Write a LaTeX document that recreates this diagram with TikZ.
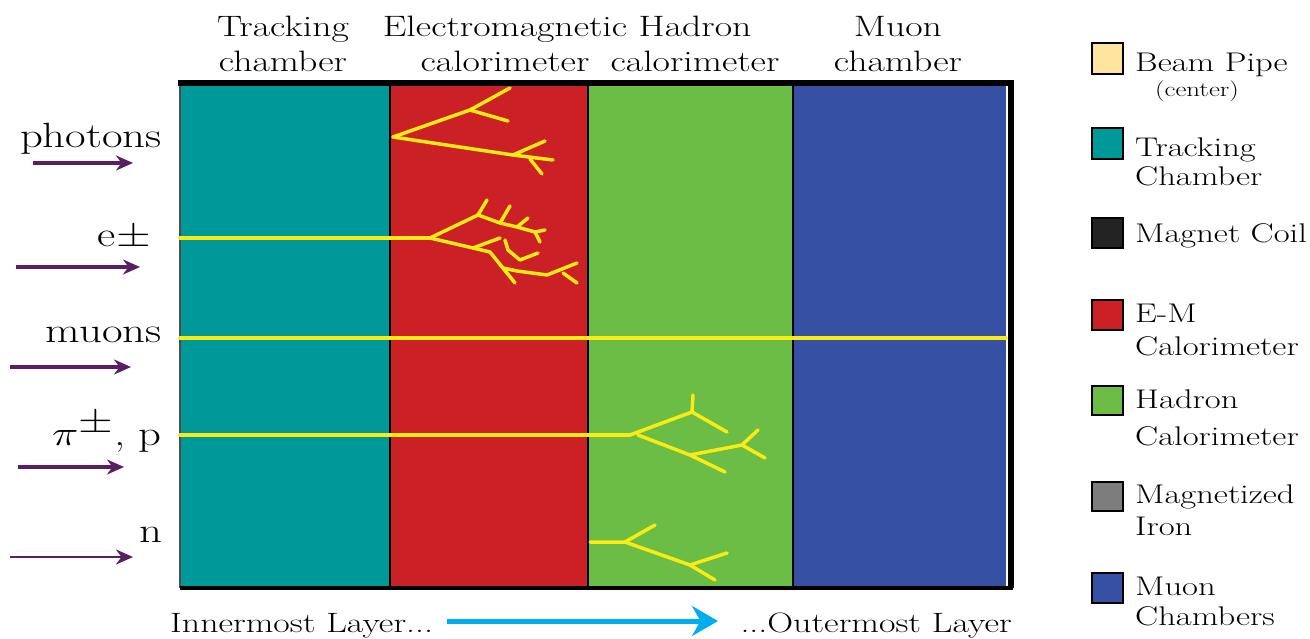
\documentclass[tikz,border=0pt]{standalone}
\usepackage{graphicx}
\usetikzlibrary{arrows.meta}

\definecolor{trackcol}{RGB}{0,153,153}
\definecolor{emcol}{RGB}{204,32,39}
\definecolor{hadcol}{RGB}{108,189,69}
\definecolor{muoncol}{RGB}{54,81,163}
\definecolor{beamcol}{RGB}{255,228,160}
\definecolor{coilcol}{RGB}{35,35,35}
\definecolor{ironcol}{RGB}{125,125,125}
\definecolor{showercol}{RGB}{250,235,20}
\definecolor{incol}{RGB}{90,30,100}
\definecolor{layercol}{RGB}{0,174,239}

\newcommand{\wide}[1]{\scalebox{1.28}[1]{#1}}
\newcommand{\bigmath}[1]{\scalebox{1.4}{$#1$}}

\tikzset{
	track/.style={showercol, line width=3.5pt, line cap=round, line join=round},
	incoming/.style={incol, line width=3.5pt, -{Stealth[length=17pt,width=15pt]}},
	head/.style={font=\fontsize{29.5}{35}\selectfont, align=center, anchor=north, inner sep=0pt},
	particle/.style={font=\fontsize{35}{40}\selectfont, anchor=base east, inner sep=0pt},
	keytext/.style={font=\fontsize{27}{30}\selectfont, anchor=base west, inner sep=0pt},
	keybox/.style={draw=black, line width=2pt},
}

\begin{document}
\begin{tikzpicture}[x=1pt,y=-1pt]

	\useasboundingbox (0,0) rectangle (1310,639);

	\fill[trackcol] (180,84) rectangle (390,588);
	\fill[emcol] (390,84) rectangle (588,588);
	\fill[hadcol] (588,84) rectangle (793,588);
	\fill[muoncol] (793,84) rectangle (1006,588);
	\draw[line width=2pt] (390,84) -- (390,588);
	\draw[line width=2pt] (588,84) -- (588,588);
	\draw[line width=2pt] (793,84) -- (793,588);
	\draw[line width=1.5pt, black!70] (180,84) -- (180,588);
	\draw[line width=6pt] (178,83) -- (1011,83) -- (1011,588);
	\draw[line width=4pt] (180,588) -- (1013,588);

	\node[head] (hdtrack) at (283,16) {\wide{Tracking}\\\wide{chamber}};
	\node[head] (hdem) at (505,16) {\wide{Electromagnetic}\\\wide{calorimeter}};
	\node[head] (hdhad) at (695,16) {\wide{Hadron}\\\wide{calorimeter}};
	\node[head] (hdmuon) at (898,16) {\wide{Muon}\\\wide{chamber}};

	\node[particle] (photons) at (162,148) {\wide{photons}};
	\node[particle] (electrons) at (151,247) {\wide{e\bigmath{\pm}}};
	\node[particle] (muons) at (162,342) {\wide{muons}};
	\node[particle] (hadrons) at (162,445) {\wide{\bigmath{\pi^{\pm}}, p}};
	\node[particle] (neutrons) at (163,542) {\wide{n}};

	\coordinate (ph0) at (33,163);
	\coordinate (ph1) at (133,163);
	\coordinate (el0) at (16,267);
	\coordinate (el1) at (140,267);
	\coordinate (mu0) at (10,367);
	\coordinate (mu1) at (131,367);
	\coordinate (pi0) at (18,467);
	\coordinate (pi1) at (124,467);
	\coordinate (nn0) at (10,557);
	\coordinate (nn1) at (133,557);
	\draw[incoming] (ph0) -- (ph1);
	\draw[incoming] (el0) -- (el1);
	\draw[incoming] (mu0) -- (mu1);
	\draw[incoming] (pi0) -- (pi1);
	\draw[incoming, line width=2pt] (nn0) -- (nn1);

	\draw[track] (393,137) -- (470,110) -- (510,88);
	\draw[track] (470,110) -- (508,121);
	\draw[track] (393,137) -- (513,155) -- (545,141);
	\draw[track] (513,155) -- (553,160);
	\draw[track] (530,159) -- (542,174);

	\draw[track] (180,238) -- (430,238);
	\draw[track] (430,238) -- (478,215) -- (500,223) -- (517,227) -- (535,232) -- (545,230);
	\draw[track] (478,215) -- (487,200);
	\draw[track] (500,223) -- (510,206);
	\draw[track] (517,227) -- (528,218);
	\draw[track] (535,232) -- (540,242);
	\draw[track] (430,238) -- (473,248) -- (500,238);
	\draw[track] (473,248) -- (490,252) -- (515,283);
	\draw[track] (505,240) -- (508,250) -- (520,260) -- (538,253);
	\draw[track] (503,268) -- (517,271) -- (547,275) -- (577,263);
	\draw[track] (563,273) -- (577,283);

	\draw[track] (180,338) -- (1006,338);

	\draw[track] (180,435) -- (630,435);
	\draw[track] (630,435) -- (692,412) -- (693,395);
	\draw[track] (692,412) -- (727,432);
	\draw[track] (638,435) -- (690,455) -- (725,472);
	\draw[track] (690,455) -- (742,445) -- (758,430);
	\draw[track] (742,445) -- (765,458);

	\draw[track] (590,542) -- (625,542) -- (655,525);
	\draw[track] (625,542) -- (690,565) -- (727,553);
	\draw[track] (690,565) -- (715,580);

	\node[keytext, font=\fontsize{28}{30}\selectfont] (inner) at (170,632) {\wide{Innermost Layer...}};
	\node[keytext, font=\fontsize{28}{30}\selectfont, anchor=base east] (outer) at (1012,632) {\wide{...Outermost Layer}};
	\draw[layercol, line width=5pt, -{Stealth[length=26pt,width=30pt]}] (447,621) -- (718,621);

	\fill[beamcol] (1092,43) rectangle (1123,74);
	\draw[keybox] (1092,43) rectangle (1123,74);
	\fill[trackcol] (1092,128) rectangle (1123,159);
	\draw[keybox] (1092,128) rectangle (1123,159);
	\fill[coilcol] (1092,218) rectangle (1123,248);
	\draw[keybox] (1092,218) rectangle (1123,248);
	\fill[emcol] (1092,300) rectangle (1123,330);
	\draw[keybox] (1092,300) rectangle (1123,330);
	\fill[hadcol] (1092,386) rectangle (1123,415);
	\draw[keybox] (1092,386) rectangle (1123,415);
	\fill[ironcol] (1092,482) rectangle (1123,511);
	\draw[keybox] (1092,482) rectangle (1123,511);
	\fill[muoncol] (1092,573) rectangle (1123,603);
	\draw[keybox] (1092,573) rectangle (1123,603);

	\node[keytext] (kbeam) at (1135,72) {\wide{Beam Pipe}};
	\node[font=\fontsize{21}{24}\selectfont, anchor=base, inner sep=0pt] (kcenter) at (1197,97) {\wide{(center)}};
	\node[keytext] (ktrack) at (1135,157) {\wide{Tracking}};
	\node[keytext] (ktrackb) at (1135,186) {\wide{Chamber}};
	\node[keytext] (kcoil) at (1135,243) {\wide{Magnet Coil}};
	\node[keytext] (kem) at (1135,323) {\wide{E-M}};
	\node[keytext] (kemb) at (1135,355) {\wide{Calorimeter}};
	\node[keytext] (khad) at (1135,408) {\wide{Hadron}};
	\node[keytext] (khadb) at (1135,445) {\wide{Calorimeter}};
	\node[keytext] (kiron) at (1135,503) {\wide{Magnetized}};
	\node[keytext] (kironb) at (1135,535) {\wide{Iron}};
	\node[keytext] (kmuon) at (1135,595) {\wide{Muon}};
	\node[keytext] (kmuonb) at (1135,625) {\wide{Chambers}};

\end{tikzpicture}
\end{document}
